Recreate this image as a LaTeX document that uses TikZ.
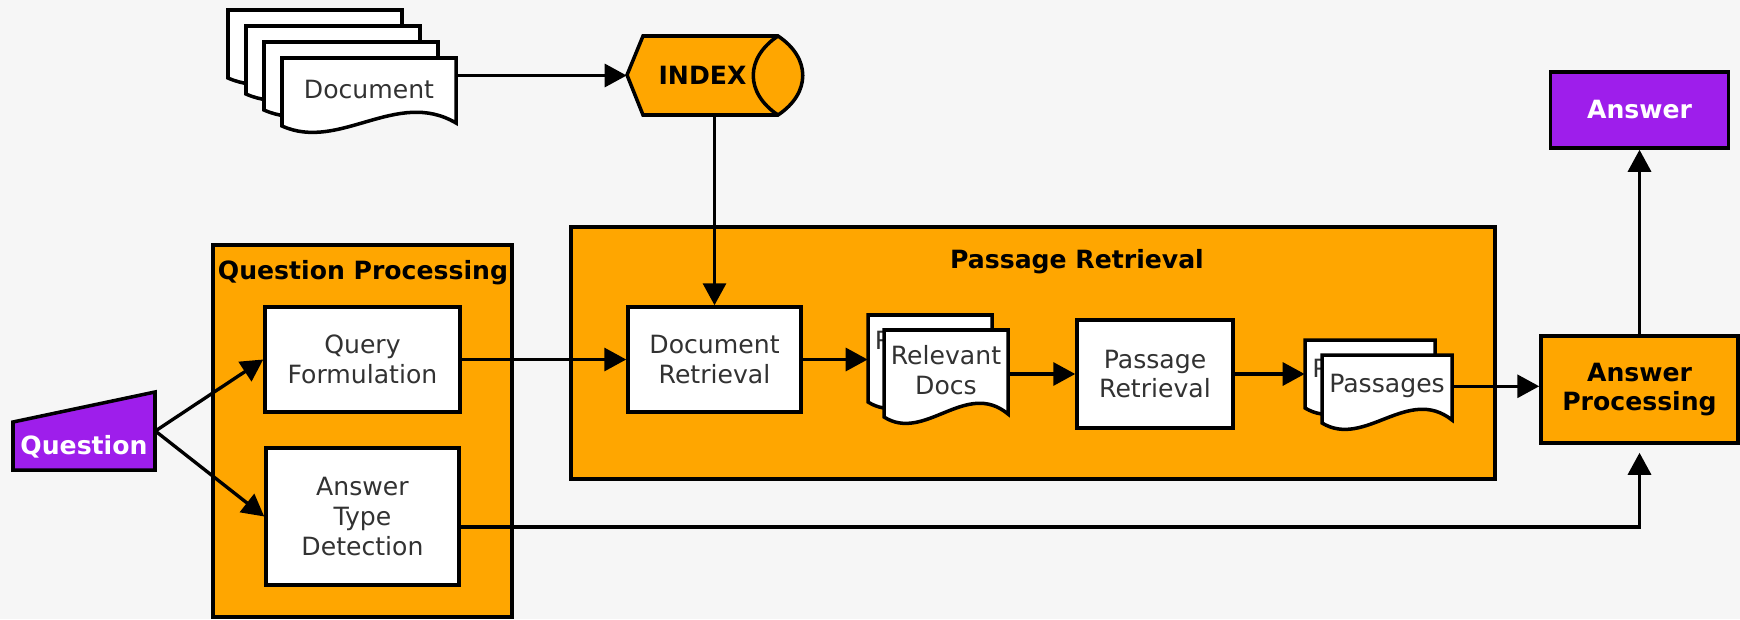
\documentclass[tikz,border=0pt]{standalone}
\usepackage{fontspec}
\setmainfont{DejaVu Sans}
\usetikzlibrary{arrows.meta}
\definecolor{QAOrange}{RGB}{255,166,0}
\definecolor{QAPurple}{RGB}{158,30,235}
\definecolor{LabelGrey}{RGB}{50,50,50}
\definecolor{PaperGrey}{RGB}{246,246,246}
\def\px{0.02cm}
\newcommand{\qafont}{\fontsize{14.3}{16.8}\selectfont}
\tikzset{
  stage/.style={draw=black, line width=2pt, fill=white, align=center, inner sep=2pt,
    font=\qafont, text=LabelGrey},
  group/.style={draw=black, line width=2pt, fill=QAOrange},
  grouptitle/.style={font=\qafont\bfseries, inner sep=0pt},
  ioterm/.style={draw=black, line width=2pt, fill=QAPurple},
  iotext/.style={font=\qafont\bfseries, text=white, inner sep=0pt},
  sheet/.style={draw=black, line width=2pt, fill=white},
  sheettext/.style={font=\qafont, text=LabelGrey, align=center, inner sep=0pt},
  flow/.style={-{Triangle[length=0.44cm, width=0.46cm]}, line width=1.9pt},
}
% one flowchart "document" sheet: name, left, top, width, height, text
\newcommand{\docsheet}[6]{%
  \draw[sheet] (#2,{#3+#5}) -- (#2,#3) -- ({#2+#4},#3) -- ({#2+#4},{#3+#5-3})
    .. controls ({#2+0.66*#4},{#3+#5-38}) and ({#2+0.33*#4},{#3+#5+26}) .. (#2,{#3+#5}) -- cycle;
  \node[sheettext, minimum width={#4*\px}, minimum height={0.92*#5*\px}] (#1)
    at ({#2+#4/2},{#3+0.46*#5}) {#6};
}

\begin{document}
\begin{tikzpicture}[x=\px, y=-\px]
  \fill[PaperGrey] (0,0) rectangle (1740,619);
  \useasboundingbox (0,0) rectangle (1740,619);

  % the two orange groups
  \node[group, minimum width=299*\px, minimum height=372*\px] (qp) at (362.5,431) {};
  \node[grouptitle] (qptitle) at (363,273) {Question Processing};
  \node[group, minimum width=924*\px, minimum height=252*\px] (pr) at (1033,353) {};
  \node[grouptitle] (prtitle) at (1077,262) {Passage Retrieval};

  % document pile and the index store
  \foreach \k in {0,...,3}
    {\docsheet{doc\k}{228+18*\k}{10+16*\k}{174}{68}{Document}}
  \draw[group] (627,75) -- (643,36) -- (778,36) .. controls (811,58) and (811,93) .. (778,115)
    -- (643,115) -- cycle;
  \draw[line width=2pt] (778,36) .. controls (745,58) and (745,93) .. (778,115);
  \node[grouptitle, minimum width=151*\px, minimum height=79*\px] (index) at (702.5,75.5) {INDEX};

  % question input
  \draw[ioterm] (13,422) -- (155,392) -- (155,470) -- (13,470) -- cycle;
  \node[minimum width=142*\px, minimum height=78*\px, inner sep=0pt] (question) at (84,431) {};
  \node[iotext] (questiontext) at (84,447) {Question};

  \node[stage, minimum width=195*\px, minimum height=105*\px] (query) at (362.5,359.5) {Query\\Formulation};
  \node[stage, minimum width=193*\px, minimum height=137*\px] (atd) at (362.5,516.5) {Answer\\Type\\Detection};

  % retrieval chain
  \node[stage, minimum width=173*\px, minimum height=105*\px] (docret) at (714.5,359.5) {Document\\Retrieval};
  \foreach \k in {0,1}
    {\docsheet{rel\k}{868+16*\k}{315+15*\k}{124}{87}{Relevant\\Docs}}
  \node[stage, minimum width=156*\px, minimum height=108*\px] (passret) at (1155,374) {Passage\\Retrieval};
  \foreach \k in {0,1}
    {\docsheet{pas\k}{1305+17*\k}{340+15*\k}{130}{68}{Passages}}

  % answer side
  \node[group, font=\qafont\bfseries, align=center, minimum width=197*\px, minimum height=107*\px] (ansproc) at (1639.5,389.5) {Answer\\Processing};
  \node[ioterm, iotext, minimum width=178*\px, minimum height=76*\px] (answer) at (1639.5,110) {Answer};

  % connectors
  \draw[flow] (doc3.east |- index.west) -- (index.west);
  \draw[flow] (index.south -| docret.north) -- (docret.north);
  \draw[flow] (question.east) -- (query.west);
  \draw[flow] (question.east) -- (atd.west);
  \draw[flow] (query.east) -- (docret.west);
  \draw[flow] (docret.east) -- (docret.east -| rel0.west);
  \draw[flow] (rel1.east |- passret.west) -- (passret.west);
  \draw[flow] (passret.east) -- (passret.east -| pas0.west);
  \draw[flow] (pas1.east) -- (pas1.east -| ansproc.west);
  \draw[flow] (ansproc.north) -- (answer.south);
  \draw[flow, shorten >=0.16cm] ([yshift=-0.21cm]atd.east) -| (ansproc.south);
\end{tikzpicture}
\end{document}
